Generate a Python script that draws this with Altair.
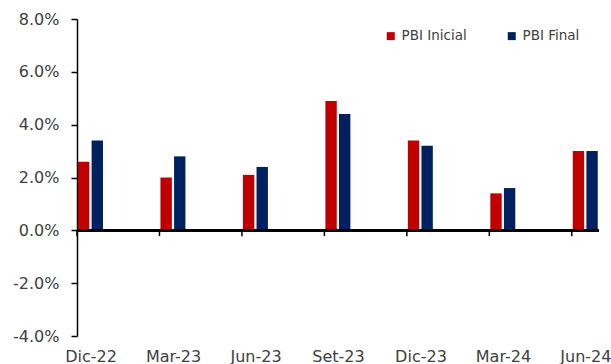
import altair as alt
import pandas as pd

# Quarterly GDP growth estimates: first release vs final figure
periods = ["Dic-22", "Mar-23", "Jun-23", "Set-23", "Dic-23", "Mar-24", "Jun-24"]
pbi_inicial = [2.6, 2.0, 2.1, 4.9, 3.4, 1.4, 3.0]
pbi_final = [3.4, 2.8, 2.4, 4.4, 3.2, 1.6, 3.0]
series_names = ["PBI Inicial", "PBI Final"]
series_colors = ["#C00000", "#002060"]
y_ticks = [-4, -2, 0, 2, 4, 6, 8]

rows = []
for i, p in enumerate(periods):
    rows.append({"idx": i, "period": p, "series": series_names[0], "value": pbi_inicial[i]})
    rows.append({"idx": i, "period": p, "series": series_names[1], "value": pbi_final[i]})
df = pd.DataFrame(rows)
ticks_df = pd.DataFrame({"idx": list(range(len(periods)))})

X_MAX = 6.33
GROUP_CENTER = 0.165
FONT = "DejaVu Sans"
TEXT_COLOR = "#404040"

x_scale = alt.Scale(domain=[0, X_MAX], nice=False, zero=False)
y_scale = alt.Scale(domain=[-4, 8], nice=False)

label_array = "[" + ",".join(f"'{p}'" for p in periods) + "]"

bars = alt.Chart(df).transform_calculate(
    x0=f"datum.idx + (datum.series == '{series_names[0]}' ? 0.012 : 0.177)",
    x1=f"datum.idx + (datum.series == '{series_names[0]}' ? 0.150 : 0.315)",
).mark_bar().encode(
    x=alt.X(
        "x0:Q",
        scale=x_scale,
        axis=alt.Axis(
            values=[i + GROUP_CENTER for i in range(len(periods))],
            labelExpr=f"{label_array}[round(datum.value - {GROUP_CENTER})]",
            domain=False, ticks=False, grid=False, title=None,
            labelFlush=False, labelFontSize=16, labelFont=FONT,
            labelColor=TEXT_COLOR, labelPadding=12,
        ),
    ),
    x2="x1:Q",
    y=alt.Y(
        "value:Q",
        scale=y_scale,
        axis=alt.Axis(
            values=y_ticks,
            labelExpr="(datum.value < 0 ? '-' : '') + format(abs(datum.value), '.1f') + '%'",
            grid=False, title=None,
            domainColor="black", domainWidth=1.5,
            tickColor="black", tickWidth=1.5, tickSize=6,
            labelFontSize=16, labelFont=FONT, labelColor=TEXT_COLOR,
            labelPadding=12,
        ),
    ),
    y2=alt.datum(0),
    color=alt.Color(
        "series:N",
        scale=alt.Scale(domain=series_names, range=series_colors),
        legend=alt.Legend(
            title=None, orient="none", direction="horizontal",
            legendX=307, legendY=10, padding=0,
            symbolType="square", symbolSize=64, symbolStrokeWidth=0,
            labelFontSize=13.5, labelFont=FONT, labelColor=TEXT_COLOR,
            labelOffset=4, columnPadding=38,
        ),
    ),
)

zero_line = alt.Chart(df).mark_rule(color="black", strokeWidth=2).encode(
    x=alt.datum(0, scale=x_scale),
    x2=alt.datum(X_MAX),
    y=alt.datum(0),
)

tick_marks = alt.Chart(ticks_df).mark_rule(color="black", strokeWidth=1.5).encode(
    x=alt.X("idx:Q", scale=x_scale),
    y=alt.datum(0),
    y2=alt.datum(-0.22),
)

chart = alt.layer(bars, zero_line, tick_marks).properties(
    width=522,
    height=317,
    autosize="none",
    padding={"left": 77, "top": 19, "right": 12, "bottom": 28},
    background="white",
).configure_view(stroke=None)

chart.save("out.html", embed_options={"renderer": "svg", "actions": False})
